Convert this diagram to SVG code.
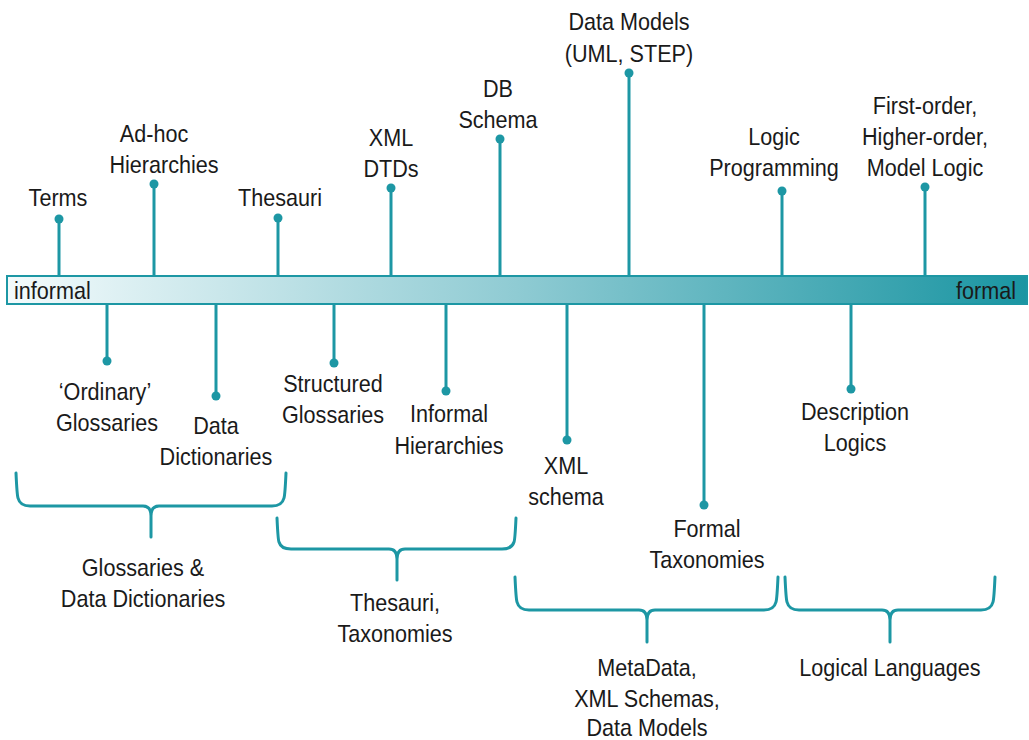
<svg xmlns="http://www.w3.org/2000/svg" width="1029" height="740" viewBox="0 0 1029 740">
  <style>
    text { font-family: "Liberation Sans Narrow", "Liberation Sans", Arial, sans-serif; font-size: 24px; fill: #1a1a1a; text-anchor: middle; }
    .stem { stroke: #1d97a4; stroke-width: 3; fill: none; }
    .dot { fill: #1d97a4; }
    .brace { stroke: #1d97a4; stroke-width: 3; fill: none; stroke-linejoin: round; stroke-linecap: round; }
  </style>
  <defs>
    <linearGradient id="scale" x1="0" y1="0" x2="1" y2="0">
      <stop offset="0" stop-color="#f4fbfc"/>
      <stop offset="0.5" stop-color="#8fcbd3"/>
      <stop offset="1" stop-color="#1a95a2"/>
    </linearGradient>
  </defs>
  <rect width="1029" height="740" fill="#ffffff"/>

  <!-- connectors: stems from the scale to each kind -->
  <g id="connectors">
    <line class="stem" x1="59" y1="219" x2="59" y2="276"/>
    <line class="stem" x1="154" y1="184" x2="154" y2="276"/>
    <line class="stem" x1="278" y1="218" x2="278" y2="276"/>
    <line class="stem" x1="391" y1="188" x2="391" y2="276"/>
    <line class="stem" x1="500" y1="139" x2="500" y2="276"/>
    <line class="stem" x1="629" y1="73" x2="629" y2="276"/>
    <line class="stem" x1="782" y1="191" x2="782" y2="276"/>
    <line class="stem" x1="925" y1="187" x2="925" y2="276"/>
    <line class="stem" x1="107" y1="304" x2="107" y2="361"/>
    <line class="stem" x1="216" y1="304" x2="216" y2="396"/>
    <line class="stem" x1="334" y1="304" x2="334" y2="363"/>
    <line class="stem" x1="446" y1="304" x2="446" y2="391"/>
    <line class="stem" x1="567" y1="304" x2="567" y2="440"/>
    <line class="stem" x1="704" y1="304" x2="704" y2="505"/>
    <line class="stem" x1="851" y1="304" x2="851" y2="389"/>
  </g>

  <!-- informal → formal scale -->
  <g id="scale-bar">
    <rect x="7" y="276" width="1020" height="28" fill="url(#scale)" stroke="#1d97a4" stroke-width="2"/>
    <text transform="translate(14 299) scale(0.9 1)" style="text-anchor:start">informal</text>
    <text transform="translate(1016 299) scale(0.9 1)" style="text-anchor:end">formal</text>
  </g>

  <g id="terms"><circle class="dot" cx="59" cy="219" r="4.5"/><text transform="translate(58 206) scale(0.9 1)">Terms</text></g>
  <g id="adhoc-hierarchies"><circle class="dot" cx="154" cy="184" r="4.5"/><text transform="translate(154 142) scale(0.9 1)">Ad-hoc</text><text transform="translate(164 173) scale(0.9 1)">Hierarchies</text></g>
  <g id="thesauri"><circle class="dot" cx="278" cy="218" r="4.5"/><text transform="translate(280 206) scale(0.9 1)">Thesauri</text></g>
  <g id="xml-dtds"><circle class="dot" cx="391" cy="188" r="4.5"/><text transform="translate(391 146) scale(0.9 1)">XML</text><text transform="translate(391 177) scale(0.9 1)">DTDs</text></g>
  <g id="db-schema"><circle class="dot" cx="500" cy="139" r="4.5"/><text transform="translate(498 97) scale(0.9 1)">DB</text><text transform="translate(498 128) scale(0.9 1)">Schema</text></g>
  <g id="data-models"><circle class="dot" cx="629" cy="73" r="4.5"/><text transform="translate(629 30) scale(0.9 1)">Data Models</text><text transform="translate(629 62) scale(0.9 1)">(UML, STEP)</text></g>
  <g id="logic-programming"><circle class="dot" cx="782" cy="191" r="4.5"/><text transform="translate(774 145) scale(0.9 1)">Logic</text><text transform="translate(774 176) scale(0.9 1)">Programming</text></g>
  <g id="higher-order-logic"><circle class="dot" cx="925" cy="187" r="4.5"/><text transform="translate(925 114) scale(0.9 1)">First-order,</text><text transform="translate(925 145) scale(0.9 1)">Higher-order,</text><text transform="translate(925 176) scale(0.9 1)">Model Logic</text></g>

  <g id="ordinary-glossaries"><circle class="dot" cx="107" cy="361" r="4.5"/><text transform="translate(105 400) scale(0.9 1)">‘Ordinary’</text><text transform="translate(107 431) scale(0.9 1)">Glossaries</text></g>
  <g id="data-dictionaries"><circle class="dot" cx="216" cy="396" r="4.5"/><text transform="translate(216 434) scale(0.9 1)">Data</text><text transform="translate(216 465) scale(0.9 1)">Dictionaries</text></g>
  <g id="structured-glossaries"><circle class="dot" cx="334" cy="363" r="4.5"/><text transform="translate(333 392) scale(0.9 1)">Structured</text><text transform="translate(333 423) scale(0.9 1)">Glossaries</text></g>
  <g id="informal-hierarchies"><circle class="dot" cx="446" cy="391" r="4.5"/><text transform="translate(449 422) scale(0.9 1)">Informal</text><text transform="translate(449 454) scale(0.9 1)">Hierarchies</text></g>
  <g id="xml-schema"><circle class="dot" cx="567" cy="440" r="4.5"/><text transform="translate(566 474) scale(0.9 1)">XML</text><text transform="translate(566 505) scale(0.9 1)">schema</text></g>
  <g id="formal-taxonomies"><circle class="dot" cx="704" cy="505" r="4.5"/><text transform="translate(707 537) scale(0.9 1)">Formal</text><text transform="translate(707 568) scale(0.9 1)">Taxonomies</text></g>
  <g id="description-logics"><circle class="dot" cx="851" cy="389" r="4.5"/><text transform="translate(855 420) scale(0.9 1)">Description</text><text transform="translate(855 451) scale(0.9 1)">Logics</text></g>

  <!-- grouping braces -->
  <g id="glossaries-group">
    <path class="brace" d="M16,473 Q17,495 18,498 Q20,506 30,506 L143,506 Q151,506 151,516 L151,537 M151,516 Q151,506 159,506 L272,506 Q282,506 284,498 Q285,495 286,473"/>
    <text transform="translate(143 576) scale(0.9 1)">Glossaries &amp;</text><text transform="translate(143 607) scale(0.9 1)">Data Dictionaries</text>
  </g>
  <g id="thesauri-group">
    <path class="brace" d="M277,518 Q278,540 279,542 Q281,549 291,549 L389,549 Q397,549 397,559 L397,580 M397,559 Q397,549 405,549 L502,549 Q512,549 514,542 Q515,540 516,518"/>
    <text transform="translate(395 611) scale(0.9 1)">Thesauri,</text><text transform="translate(395 642) scale(0.9 1)">Taxonomies</text>
  </g>
  <g id="metadata-group">
    <path class="brace" d="M515,577 Q516,599 517,602 Q519,610 529,610 L639,610 Q647,610 647,620 L647,642 M647,620 Q647,610 655,610 L764,610 Q774,610 776,602 Q777,599 778,577"/>
    <text transform="translate(647 676) scale(0.9 1)">MetaData,</text><text transform="translate(647 707) scale(0.9 1)">XML Schemas,</text><text transform="translate(647 736) scale(0.9 1)">Data Models</text>
  </g>
  <g id="logical-languages-group">
    <path class="brace" d="M785,577 Q786,599 787,602 Q789,610 799,610 L882,610 Q890,610 890,620 L890,642 M890,620 Q890,610 898,610 L981,610 Q991,610 993,602 Q994,599 995,577"/>
    <text transform="translate(890 676) scale(0.9 1)">Logical Languages</text>
  </g>
</svg>
